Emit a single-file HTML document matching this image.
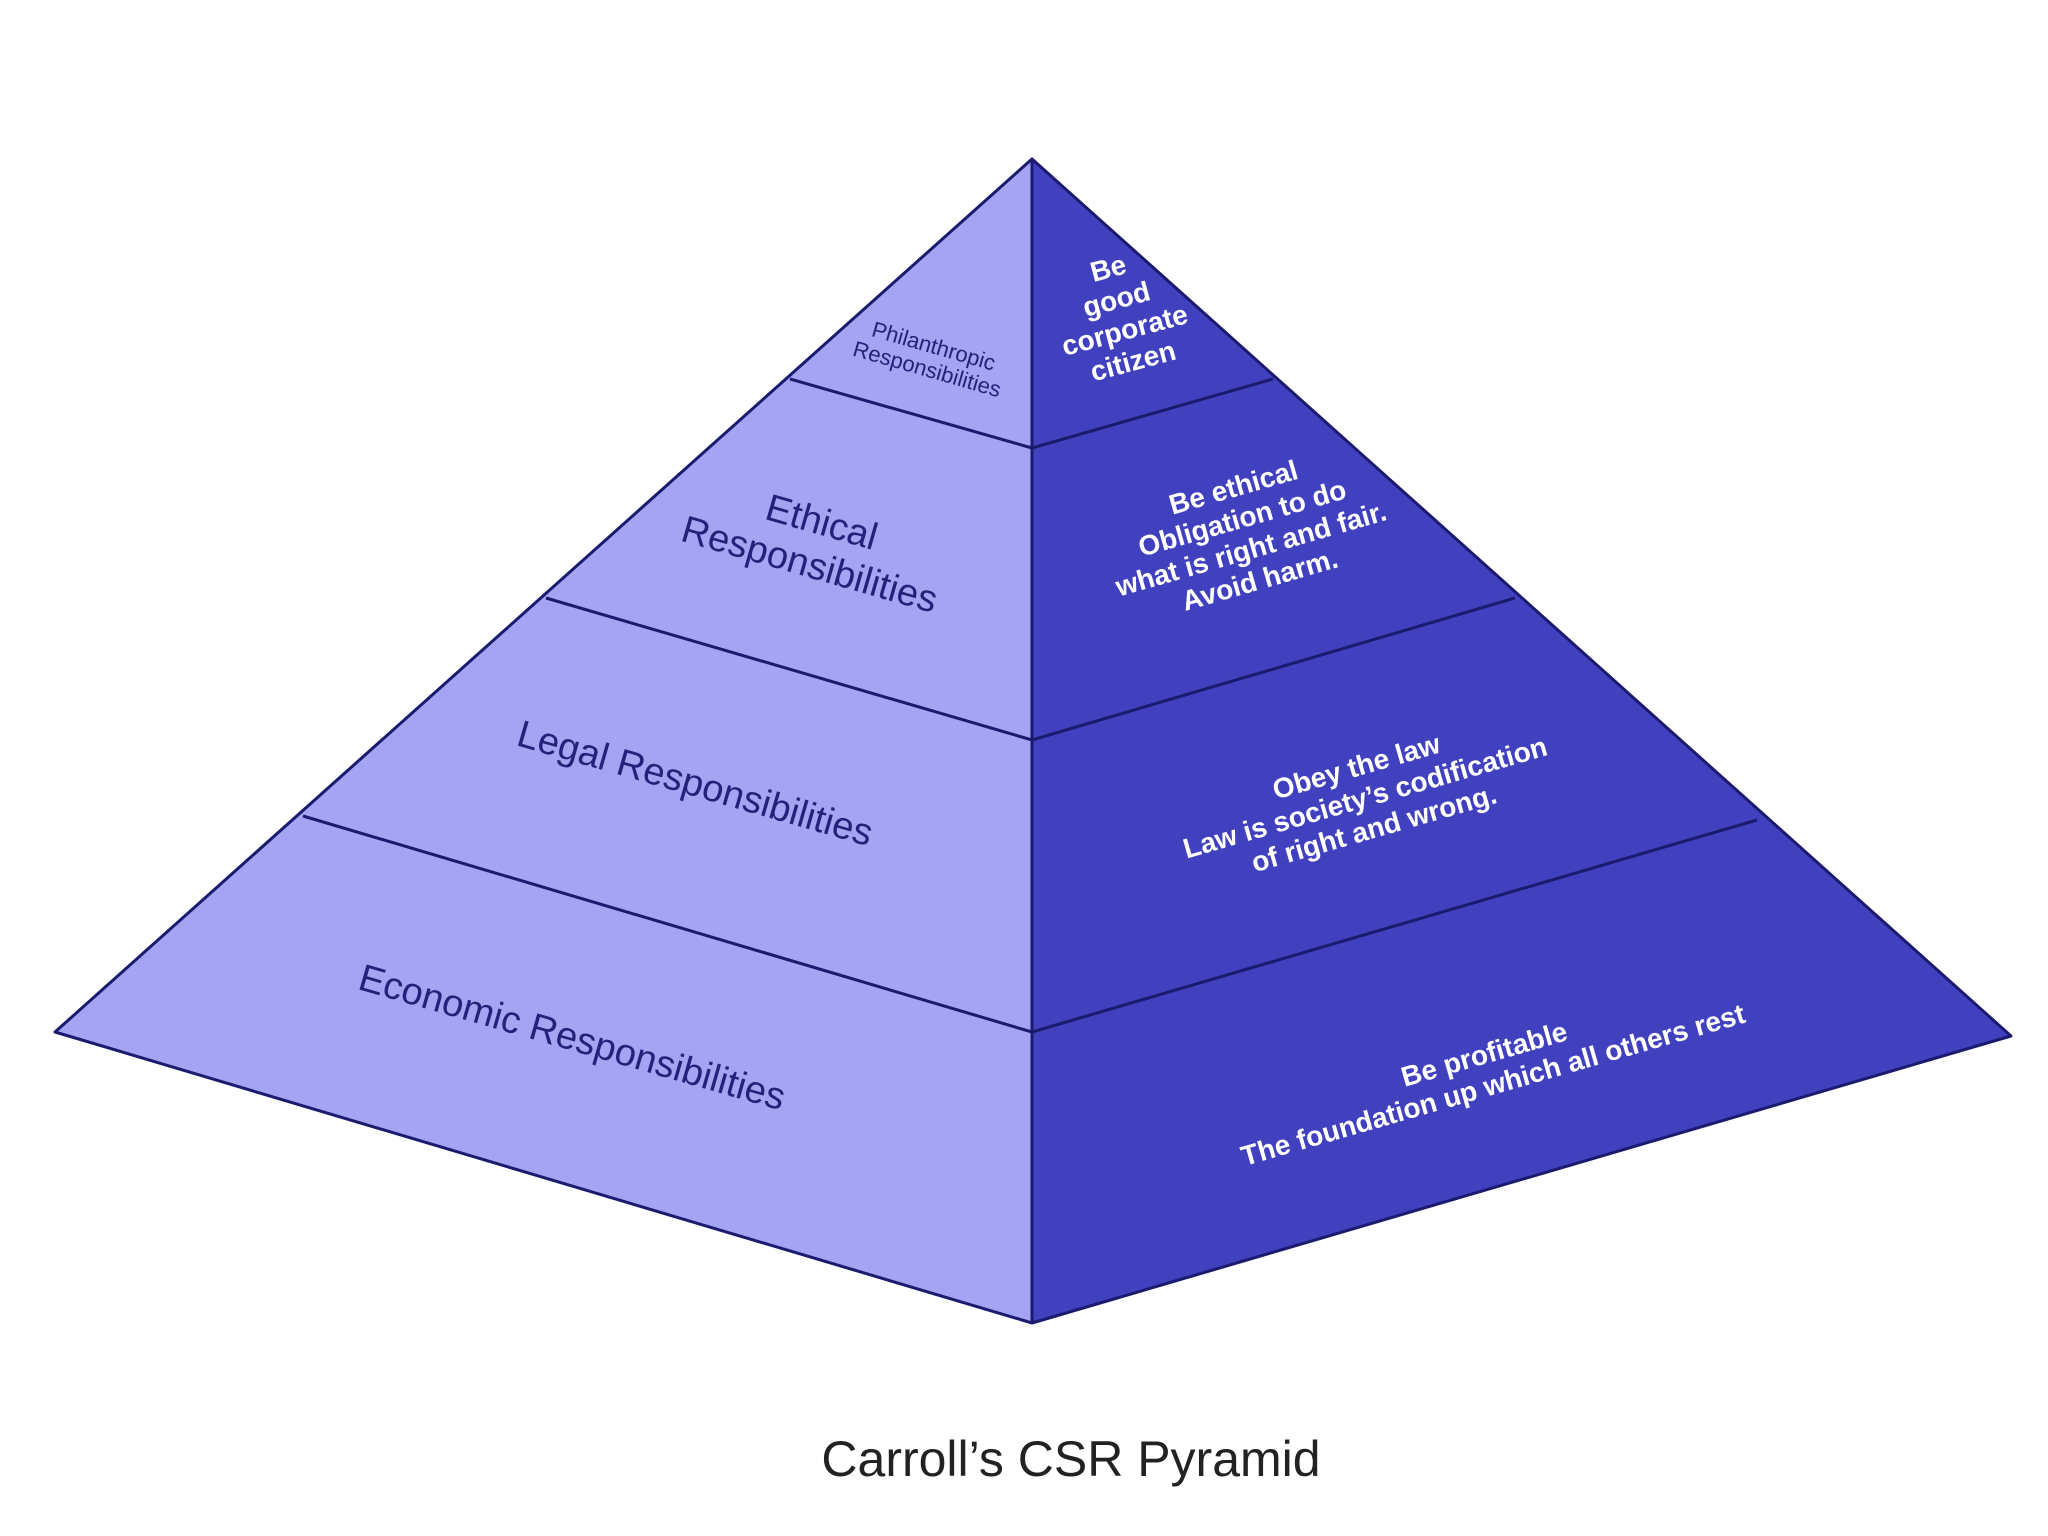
<!DOCTYPE html>
<html><head><meta charset="utf-8"><style>
html,body{margin:0;padding:0;background:#fff;width:2048px;height:1536px;overflow:hidden}
svg{display:block}
</style></head><body>
<svg width="2048" height="1536" viewBox="0 0 2048 1536" xmlns="http://www.w3.org/2000/svg">
<polygon points="1032,159 55,1032 1032,1323" fill="#a4a4f2"/>
<polygon points="1032,159 2011,1036 1032,1323" fill="#4141c0"/>
<g stroke="#1a1a6e" stroke-width="3" fill="none" stroke-linejoin="round">
<polygon points="1032,159 55,1032 1032,1323 2011,1036"/>
<line x1="1032" y1="159" x2="1032" y2="1323"/>
<polyline points="790,379 1032,448 1273,379"/>
<polyline points="546,598 1032,740 1515,598"/>
<polyline points="303,816 1032,1032 1757,820"/>
</g>
<g font-family="Liberation Sans, sans-serif" text-anchor="middle">
<text fill="#22227a" font-size="22" transform="translate(930,359) rotate(16)"><tspan x="0" y="-6">Philanthropic</tspan><tspan x="0" y="18">Responsibilities</tspan></text>
<text fill="#22227a" font-size="38" transform="translate(816,542) rotate(16)"><tspan x="0" y="-8">Ethical</tspan><tspan x="0" y="36">Responsibilities</tspan></text>
<text fill="#22227a" font-size="38" transform="translate(695,784) rotate(16)" y="12">Legal Responsibilities</text>
<text fill="#22227a" font-size="38" transform="translate(572,1038) rotate(16)" y="12">Economic Responsibilities</text>
<g fill="#ffffff" font-weight="bold" font-size="28">
<text transform="translate(1122,320) rotate(-15)"><tspan x="0" y="-44">Be</tspan><tspan x="0" y="-12">good</tspan><tspan x="0" y="20">corporate</tspan><tspan x="0" y="52">citizen</tspan></text>
<text transform="translate(1247,535) rotate(-16)"><tspan x="0" y="-40">Be ethical</tspan><tspan x="0" y="-8">Obligation to do</tspan><tspan x="0" y="24">what is right and fair.</tspan><tspan x="0" y="56">Avoid harm.</tspan></text>
<text transform="translate(1365,797) rotate(-16)"><tspan x="0" y="-22">Obey the law</tspan><tspan x="0" y="10">Law is society’s codification</tspan><tspan x="0" y="42">of right and wrong.</tspan></text>
<text transform="translate(1489,1071) rotate(-16)"><tspan x="0" y="-8">Be profitable</tspan><tspan x="0" y="24">The foundation up which all others rest</tspan></text>
</g>
<text fill="#222" font-size="50" x="1071" y="1476">Carroll’s CSR Pyramid</text>
</g>
</svg>
</body></html>
